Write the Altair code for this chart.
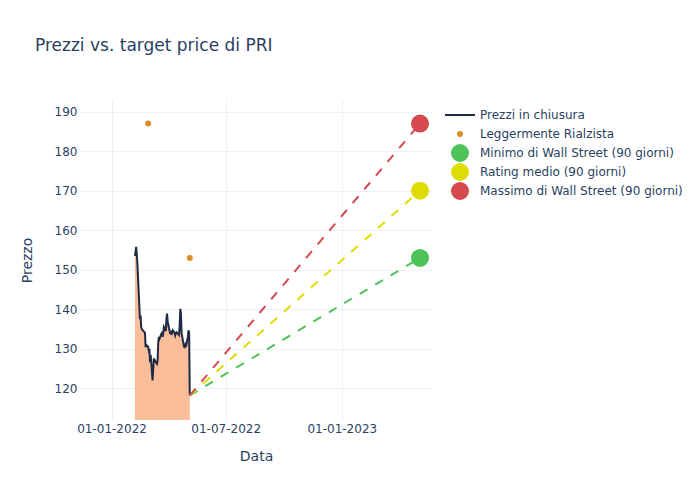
import altair as alt
import pandas as pd

# ---- data ----
price_dates = [
    "2022-02-07", "2022-02-08", "2022-02-09", "2022-02-10", "2022-02-11",
    "2022-02-14", "2022-02-15", "2022-02-16", "2022-02-17", "2022-02-18",
    "2022-02-22", "2022-02-23", "2022-02-24", "2022-02-25", "2022-02-28",
    "2022-03-01", "2022-03-02", "2022-03-03", "2022-03-04", "2022-03-07",
    "2022-03-08", "2022-03-09", "2022-03-10", "2022-03-11", "2022-03-14",
    "2022-03-15", "2022-03-16", "2022-03-17", "2022-03-18", "2022-03-21",
    "2022-03-22", "2022-03-23", "2022-03-24", "2022-03-25", "2022-03-28",
    "2022-03-29", "2022-03-30", "2022-03-31", "2022-04-01", "2022-04-04",
    "2022-04-05", "2022-04-06", "2022-04-07", "2022-04-08", "2022-04-11",
    "2022-04-12", "2022-04-13", "2022-04-14", "2022-04-18", "2022-04-19",
    "2022-04-20", "2022-04-21", "2022-04-22", "2022-04-25", "2022-04-26",
    "2022-04-27", "2022-04-28", "2022-04-29", "2022-05-02", "2022-05-03",
    "2022-05-04", "2022-05-05",
]
price_values = [
    153.5, 154.5, 155.8, 154.0, 151.5,
    141.0, 137.5, 138.5, 135.5, 135.0,
    134.2, 134.0, 130.4, 131.0, 130.5,
    129.6, 130.0, 126.6, 128.5, 122.0,
    124.5, 127.6, 126.5, 127.0, 126.2,
    127.0, 131.5, 133.0, 132.5, 133.8,
    134.0, 133.0, 134.0, 135.5, 134.5,
    137.5, 138.9, 137.0, 136.0, 133.8,
    134.5, 133.5, 134.2, 134.7, 134.0,
    133.4, 134.0, 134.2, 133.5, 136.0,
    140.1, 139.0, 134.0, 131.3, 130.5,
    130.4, 131.0, 130.5, 133.0, 134.7,
    134.0, 118.2,
]

rating_name = "Leggermente Rialzista"
rating_dates = ["2022-02-28", "2022-05-05"]
rating_values = [187, 153]

last_date = "2022-05-05"
last_price = 118.2
target_date = "2023-05-05"
target_names = [
    "Minimo di Wall Street (90 giorni)",
    "Rating medio (90 giorni)",
    "Massimo di Wall Street (90 giorni)",
]
target_values = [153, 170, 187]

line_name = "Prezzi in chiusura"
legend_names = [line_name, rating_name] + target_names
legend_colors = ["#1f2a44", "#db8f2a", "#4fc35a", "#dedc00", "#d6494f"]
target_colors = legend_colors[2:]
legend_shapes = ["M-1,0H1", "circle", "circle", "circle", "circle"]
legend_sizes = [900, 16, 256, 256, 256]

TEXT = "#2a3f5f"
GRID = "#EBF0F8"
FONT = "DejaVu Sans"

price_df = pd.DataFrame({"date": price_dates, "value": price_values})

pts_rows = [{"serie": rating_name, "date": d, "value": v} for d, v in zip(rating_dates, rating_values)]
pts_rows += [{"serie": n, "date": target_date, "value": v} for n, v in zip(target_names, target_values)]
pts_df = pd.DataFrame(pts_rows)

dash_rows = []
for n, v in zip(target_names, target_values):
    dash_rows.append({"serie": n, "date": last_date, "value": last_price})
    dash_rows.append({"serie": n, "date": target_date, "value": v})
dash_df = pd.DataFrame(dash_rows)

x_scale = alt.Scale(
    domain=[alt.DateTime(year=2021, month=11, date=12), alt.DateTime(year=2023, month=5, date=24)],
    nice=False,
)
y_scale = alt.Scale(domain=[111.98, 192.96], nice=False, zero=False)

x_axis = alt.Axis(
    values=[
        alt.DateTime(year=2022, month=1, date=1),
        alt.DateTime(year=2022, month=7, date=1),
        alt.DateTime(year=2023, month=1, date=1),
    ],
    format="%d-%m-%Y",
    title="Data",
    titlePadding=15,
    labelPadding=3,
)
y_axis = alt.Axis(
    values=[120, 130, 140, 150, 160, 170, 180, 190],
    title="Prezzo",
    titlePadding=20,
    labelPadding=3,
)

X = alt.X("date:T", scale=x_scale, axis=x_axis)
Y = alt.Y("value:Q", scale=y_scale, axis=y_axis)

area = alt.Chart(price_df).mark_area(color="#f9be99", opacity=1, clip=True).encode(x=X, y=Y)
line = alt.Chart(price_df).mark_line(color="#1f2a44", strokeWidth=2, clip=True).encode(
    x="date:T", y="value:Q"
)
dashes = alt.Chart(dash_df).mark_line(strokeWidth=2, strokeDash=[9, 9], clip=True).encode(
    x="date:T",
    y="value:Q",
    color=alt.Color("serie:N", scale=alt.Scale(domain=target_names, range=target_colors), legend=None),
)

legend = alt.Legend(
    title=None,
    orient="none",
    legendX=364,
    legendY=6,
    labelFontSize=12,
    labelColor=TEXT,
    labelFont=FONT,
    labelLimit=400,
    labelOffset=4,
    symbolStrokeWidth=2,
    symbolOpacity=1,
    clipHeight=18,
    rowPadding=1,
    padding=0,
)
points = alt.Chart(pts_df).mark_point(filled=True, opacity=1, strokeWidth=2).encode(
    x="date:T",
    y="value:Q",
    fill=alt.Fill("serie:N", scale=alt.Scale(domain=legend_names, range=legend_colors), legend=legend),
    stroke=alt.Stroke("serie:N", scale=alt.Scale(domain=legend_names, range=legend_colors), legend=legend),
    shape=alt.Shape("serie:N", scale=alt.Scale(domain=legend_names, range=legend_shapes), legend=legend),
    size=alt.Size(
        "serie:N",
        scale=alt.Scale(type="ordinal", domain=legend_names, range=legend_sizes),
        legend=legend,
    ),
)

chart = (
    alt.layer(area, line, dashes, points)
    .properties(
        width=352,
        height=320,
        background="white",
        autosize=alt.AutoSizeParams(type="none"),
        padding={"left": 72, "top": 92, "right": 260, "bottom": 72},
        title=alt.TitleParams(
            "Prezzi vs. target price di PRI",
            anchor="start",
            frame="group",
            dx=-45,
            offset=45,
            fontSize=17,
            color=TEXT,
            font=FONT,
            fontWeight="normal",
        ),
    )
    .configure_view(stroke=None)
    .configure_axis(
        labelFont=FONT,
        titleFont=FONT,
        labelFontSize=12,
        titleFontSize=14,
        labelColor=TEXT,
        titleColor=TEXT,
        titleFontWeight="normal",
        gridColor=GRID,
        gridWidth=1,
        domain=False,
        ticks=False,
        tickSize=0,
    )
)

chart.save("out.html", embed_options={"renderer": "svg", "actions": False})
